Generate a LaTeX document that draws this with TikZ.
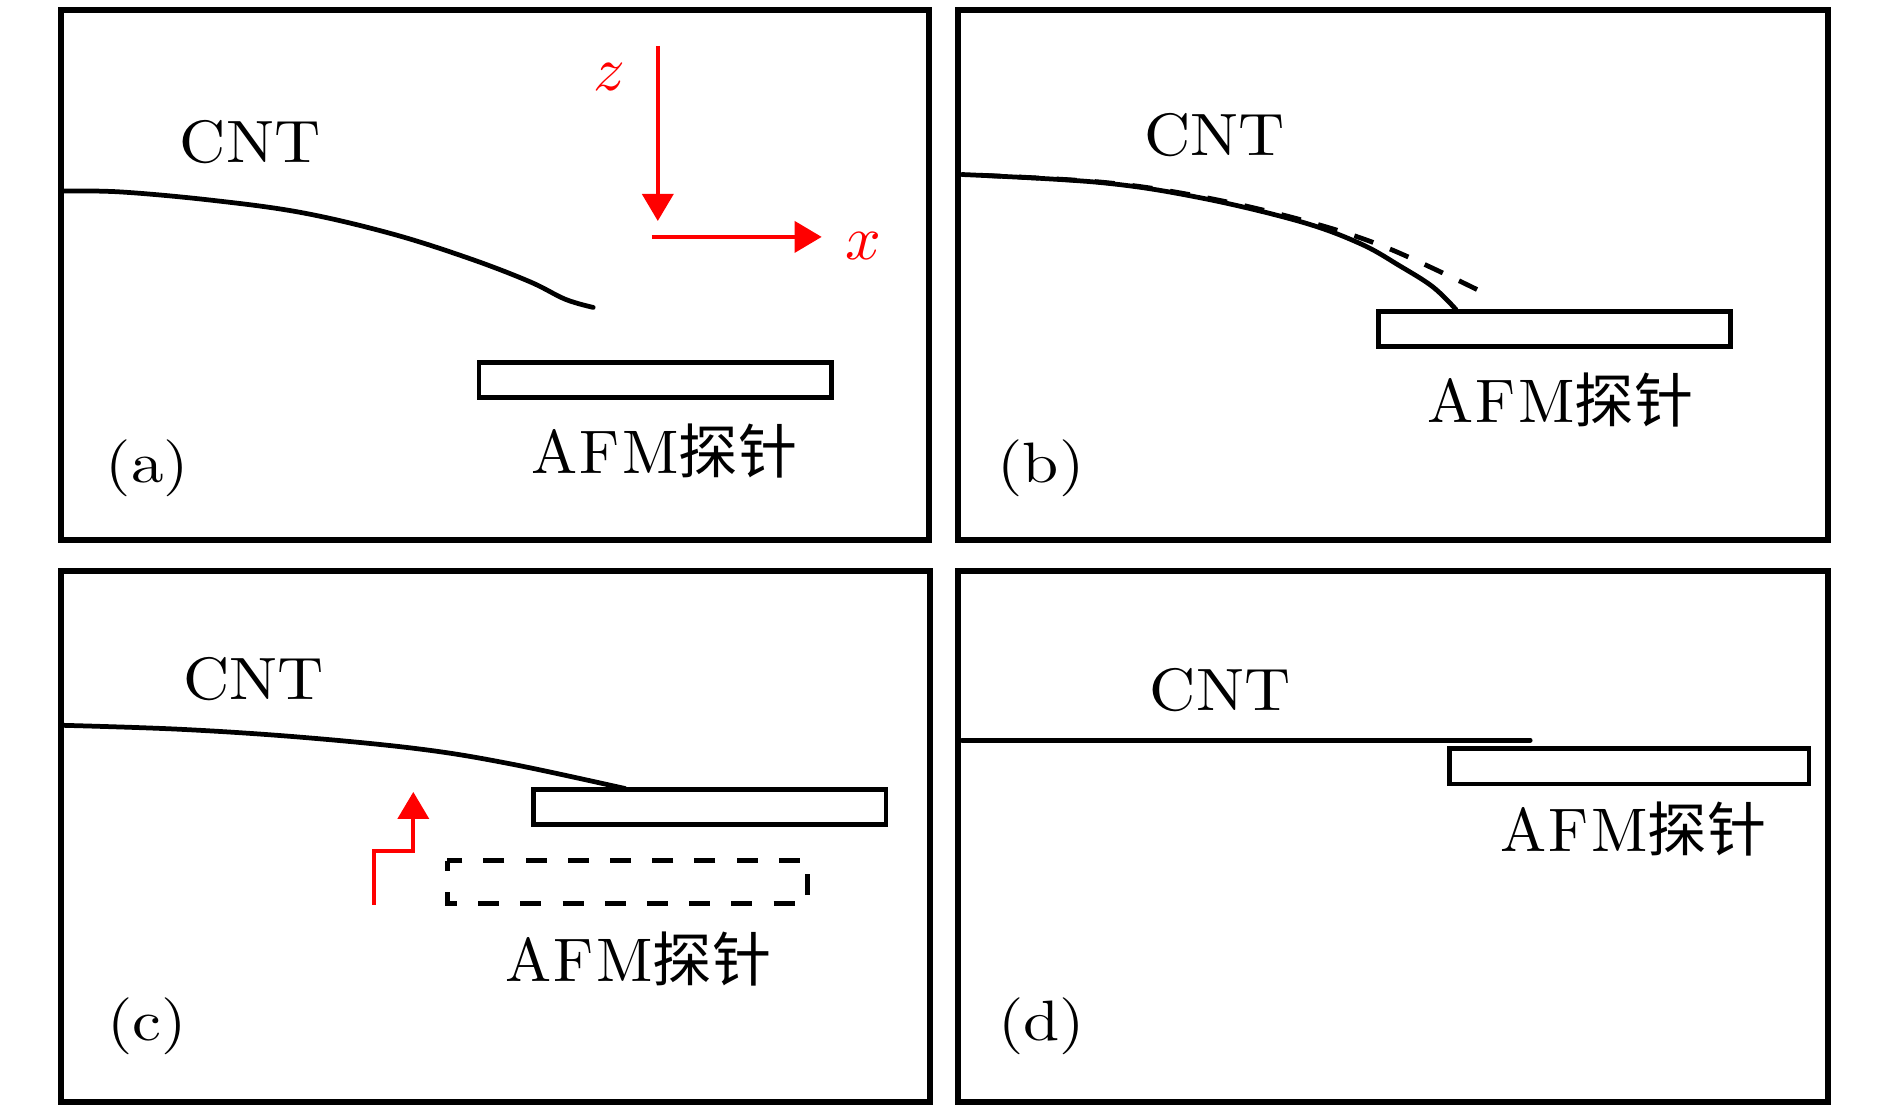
\documentclass[tikz,border=0pt]{standalone}
\usepackage{fontspec}
\newfontfamily\cjk{Noto Sans CJK SC}
\usetikzlibrary{arrows.meta}
\newcommand{\afmtext}{A\kern0.4pt F\kern0.4pt M{\cjk\fontsize{9.6pt}{12pt}\selectfont 探针}}
\begin{document}
\begin{tikzpicture}[x=0.01cm,y=-0.01cm,
  panel/.style={draw=black,line width=1.7pt},
  probe/.style={draw=black,line width=1.4pt},
  probedash/.style={draw=black,line width=1.4pt,dash pattern=on 6pt off 6pt,dash phase=3pt},
  cnt/.style={line width=1.35pt,line cap=round},
  cntdash/.style={line width=1.35pt,dash pattern=on 5.7pt off 5.1pt},
  redarrow/.style={red,line width=1.15pt,-{Triangle[length=7.7pt,width=8.8pt]}},
  cntlbl/.style={inner sep=0pt,font=\fontsize{10pt}{12pt}\selectfont,xscale=1.82,yscale=1.7},
  afmlbl/.style={inner sep=0pt,anchor=base west,font=\fontsize{10pt}{12pt}\selectfont,scale=1.75},
  tag/.style={inner sep=0pt,font=\fontsize{10pt}{12pt}\selectfont,xscale=1.85,yscale=1.62},
  axlbl/.style={inner sep=0pt,red,font=\fontsize{10pt}{12pt}\selectfont,scale=1.78}
]
\useasboundingbox (0,0) rectangle (1890,1111);

% ---------- panel (a)
\draw[panel] (60.6,10) rectangle (929,539.6);
\draw[cnt] plot[smooth,tension=0.6] coordinates {(62.6,191.1) (120.2,191.9) (210.6,200.1) (301.1,212.5) (391.5,233.7) (469.5,258.5) (529.6,281.6) (565.4,299.3) (593.2,307.4)};
\node[cntlbl] (cnta) at (250,142.5) {CNT};
\draw[probe] (479,362.4) rectangle (831.8,397.2);
\node[afmlbl] (afma) at (530,473.5) {\afmtext};
\node[tag] (taga) at (147.5,468.5) {(a)};
\coordinate (zs) at (657.8,45.8);
\coordinate (ze) at (657.8,221);
\coordinate (xs) at (651.8,236.9);
\coordinate (xe) at (821.7,236.9);
\draw[redarrow] (zs) -- (ze);
\draw[redarrow] (xs) -- (xe);
\node[axlbl] (zl) at (609,76.7) {$z$};
\node[axlbl] (xl) at (863.4,245.9) {$x$};

% ---------- panel (b)
\draw[panel] (957.9,10) rectangle (1828.3,539.6);
\draw[cntdash] plot[smooth,tension=0.6] coordinates {(1477,289.5) (1385,247) (1300,219.5) (1200,196.5) (1100,182) (962,174.5)};
\draw[cnt] plot[smooth,tension=0.6] coordinates {(962,174.5) (1100,182.5) (1200,197.7) (1300,221.5) (1360,243.5) (1400,266) (1433,287) (1456,309.5)};
\node[cntlbl] (cntb) at (1214.5,134.9) {CNT};
\draw[probe] (1378.2,311.6) rectangle (1730.6,346.4);
\node[afmlbl] (afmb) at (1426,422) {\afmtext};
\node[tag] (tagb) at (1041,468) {(b)};

% ---------- panel (c)
\draw[panel] (60.6,571) rectangle (930,1101.5);
\draw[cnt] plot[smooth,tension=0.6] coordinates {(62.6,725.3) (180.8,729.3) (301,737.2) (421.3,749.2) (511.7,764.1) (625,788.5)};
\node[cntlbl] (cntc) at (253.5,679) {CNT};
\draw[probe] (533.6,789.9) rectangle (886,824.7);
\draw[probedash] (447.1,860.6) rectangle (807.5,903.4);
\node[afmlbl] (afmc) at (504,981) {\afmtext};
\node[tag] (tagc) at (147,1026.5) {(c)};
\coordinate (us) at (373.6,904.6);
\coordinate (uk1) at (373.6,851.1);
\coordinate (uk2) at (413.3,851.1);
\coordinate (ue) at (413.3,791.9);
\draw[redarrow] (us) -- (uk1) -- (uk2) -- (ue);

% ---------- panel (d)
\draw[panel] (957.9,571) rectangle (1828.3,1101.5);
\draw[cnt] (962,740.2) -- (1530.2,740.2);
\node[cntlbl] (cntd) at (1220,690) {CNT};
\draw[probe] (1449.7,748.7) rectangle (1809,784);
\node[afmlbl] (afmd) at (1499,851.7) {\afmtext};
\node[tag] (tagd) at (1041.4,1026) {(d)};
\end{tikzpicture}
\end{document}
